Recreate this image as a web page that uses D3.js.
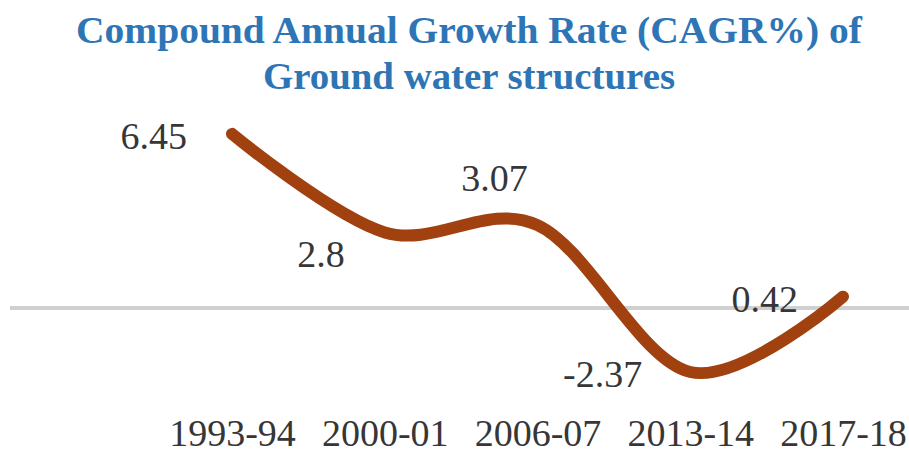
<!DOCTYPE html>
<html>
<head>
<meta charset="utf-8">
<script src="https://cdn.jsdelivr.net/npm/d3@7/dist/d3.min.js"></script>
<style>
  body { margin: 0; background: #fff; }
  svg { display: block; }
</style>
</head>
<body>
<svg id="chart" width="909" height="450"></svg>
<script>
// data
var years = ["1993-94", "2000-01", "2006-07", "2013-14", "2017-18"];
var cagr = [6.45, 2.8, 3.07, -2.37, 0.42];
var titleLines = ["Compound Annual Growth Rate (CAGR%) of", "Ground water structures"];

// label placement relative to each point (anchor, dx, dy)
var labelPos = [
  ["end", -45, 15],
  ["end", -40, 35],
  ["middle", -43, -34],
  ["end", -48, 15],
  ["end", -45, 15]
];
var titleWidth = [786, 412];

var serif = "'Liberation Serif', 'Times New Roman', Tinos, serif";
var svg = d3.select("#chart");

var x = d3.scalePoint().domain(years).range([232, 843]);
var y = d3.scaleLinear().domain([-3, 7]).range([389, 119]);

// title
svg.append("g").selectAll("text").data(titleLines).enter().append("text")
  .attr("x", 469)
  .attr("y", function(d, i) { return 43 + i * 46; })
  .attr("text-anchor", "middle")
  .attr("textLength", function(d, i) { return titleWidth[i]; })
  .attr("lengthAdjust", "spacingAndGlyphs")
  .style("font-family", serif)
  .style("font-weight", "bold")
  .style("font-size", "37px")
  .style("fill", "#2E75B6")
  .text(function(d) { return d; });

// zero line
svg.append("line")
  .attr("x1", 10).attr("x2", 909)
  .attr("y1", y(0)).attr("y2", y(0))
  .style("stroke", "#d0d0d0")
  .style("stroke-width", 4);

// the smoothed line
var line = d3.line()
  .x(function(d, i) { return x(years[i]); })
  .y(function(d) { return y(d); })
  .curve(d3.curveCardinal.tension(0));

svg.append("path")
  .datum(cagr)
  .attr("d", line)
  .style("fill", "none")
  .style("stroke", "#A0410F")
  .style("stroke-width", 12)
  .style("stroke-linecap", "round")
  .style("stroke-linejoin", "round");

// data labels
svg.append("g").selectAll("text").data(cagr).enter().append("text")
  .attr("x", function(d, i) { return x(years[i]) + labelPos[i][1]; })
  .attr("y", function(d, i) { return y(d) + labelPos[i][2]; })
  .attr("text-anchor", function(d, i) { return labelPos[i][0]; })
  .style("font-family", serif)
  .style("font-size", "38px")
  .style("fill", "#363636")
  .text(function(d) { return d; });

// category axis labels
var axis = d3.axisBottom(x).tickSize(0).tickPadding(0);
var ax = svg.append("g").attr("transform", "translate(0,446)").call(axis);
ax.select(".domain").remove();
ax.selectAll("text")
  .attr("dy", 0)
  .attr("y", 0)
  .style("font-family", serif)
  .style("font-size", "38px")
  .style("fill", "#363636");
</script>
</body>
</html>
